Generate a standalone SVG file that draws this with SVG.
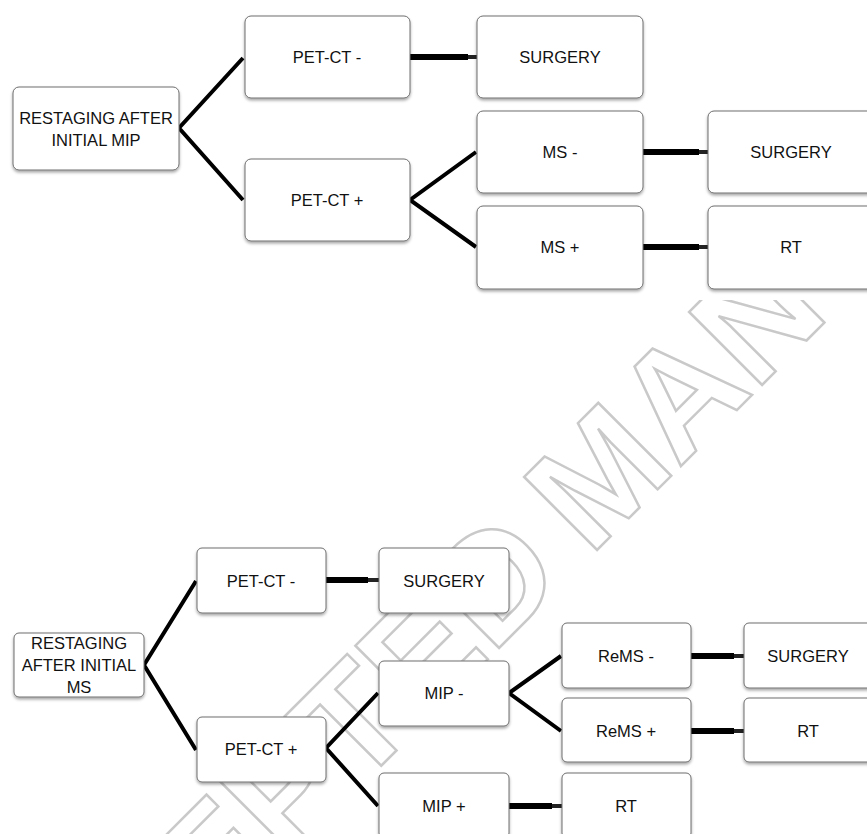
<svg xmlns="http://www.w3.org/2000/svg" width="867" height="834" viewBox="0 0 867 834">
<style>
.box{fill:#fff;stroke:#6e6e6e;stroke-width:1;filter:url(#sh)}
.t{font-family:"Liberation Sans",Arial,sans-serif;font-size:16.5px;fill:#111;text-anchor:middle}
.c{stroke:#000;stroke-width:4;fill:none;stroke-linecap:butt}
.h{stroke:#000;stroke-width:6;fill:none}
.hs{stroke:#222;stroke-width:4;fill:none}
.wm{font-family:"Liberation Sans",Arial,sans-serif;font-weight:bold;font-size:150px;fill:none;stroke:#c9c9c9;stroke-width:2.5}
</style>
<defs>
<filter id="sh" x="-10%" y="-10%" width="120%" height="130%">
<feDropShadow dx="0" dy="2" stdDeviation="1.5" flood-color="#000" flood-opacity="0.35"/>
</filter>
<clipPath id="wc"><rect x="0" y="300" width="867" height="534"/></clipPath>
</defs>
<rect width="867" height="834" fill="#fff"/>
<g id="watermark" clip-path="url(#wc)">
<g transform="translate(597,550) rotate(-45)">
<text class="wm" x="-40" y="0" text-anchor="end">ACCEPTED</text>
<text class="wm" x="-10" y="0">MANUSCRIPT</text>
</g>
</g>
<g id="connectors">
<path class="c" d="M243,58 L179,128 L243,200"/>
<path class="h" d="M410,57 H468"/><path class="hs" d="M468,57 H477"/>
<path class="c" d="M476,152 L410,200 L476,247"/>
<path class="h" d="M643,152 H699"/><path class="hs" d="M699,152 H708"/>
<path class="h" d="M643,247 H699"/><path class="hs" d="M699,247 H708"/>
<path class="c" d="M196,581 L144,665 L196,750"/>
<path class="h" d="M326,580 H368"/><path class="hs" d="M368,580 H379"/>
<path class="c" d="M378,693 L326,748 L378,806"/>
<path class="c" d="M561,656 L509,693 L561,731"/>
<path class="h" d="M691,656 H734"/><path class="hs" d="M734,656 H744"/>
<path class="h" d="M691,731 H734"/><path class="hs" d="M734,731 H744"/>
<path class="h" d="M509,806 H552"/><path class="hs" d="M552,806 H562"/>
</g>
<g id="n_root1"><rect class="box" x="13" y="87" width="166" height="83" rx="6"/><text class="t" x="96" y="124">RESTAGING AFTER</text><text class="t" x="96" y="146">INITIAL MIP</text></g>
<g id="n_petneg1"><rect class="box" x="245" y="16" width="165" height="82" rx="6"/><text class="t" x="327" y="63">PET-CT -</text></g>
<g id="n_petpos1"><rect class="box" x="245" y="159" width="165" height="82" rx="6"/><text class="t" x="327" y="206">PET-CT +</text></g>
<g id="n_surg1"><rect class="box" x="477" y="16" width="166" height="82" rx="6"/><text class="t" x="560" y="63">SURGERY</text></g>
<g id="n_msneg"><rect class="box" x="477" y="111" width="166" height="82" rx="6"/><text class="t" x="560" y="158">MS -</text></g>
<g id="n_mspos"><rect class="box" x="477" y="206" width="166" height="83" rx="6"/><text class="t" x="560" y="253">MS +</text></g>
<g id="n_surg2"><rect class="box" x="708" y="111" width="166" height="82" rx="6"/><text class="t" x="791" y="158">SURGERY</text></g>
<g id="n_rt1"><rect class="box" x="708" y="206" width="166" height="83" rx="6"/><text class="t" x="791" y="253">RT</text></g>
<g id="n_root2"><rect class="box" x="14" y="633" width="130" height="64" rx="5"/><text class="t" x="79" y="649">RESTAGING</text><text class="t" x="79" y="671">AFTER INITIAL</text><text class="t" x="79" y="693">MS</text></g>
<g id="n_petneg2"><rect class="box" x="197" y="548" width="129" height="65" rx="5"/><text class="t" x="261" y="587">PET-CT -</text></g>
<g id="n_petpos2"><rect class="box" x="197" y="717" width="129" height="65" rx="5"/><text class="t" x="261" y="755">PET-CT +</text></g>
<g id="n_surg3"><rect class="box" x="379" y="548" width="130" height="65" rx="5"/><text class="t" x="444" y="587">SURGERY</text></g>
<g id="n_mipneg"><rect class="box" x="379" y="661" width="130" height="65" rx="5"/><text class="t" x="444" y="699">MIP -</text></g>
<g id="n_mippos"><rect class="box" x="379" y="773" width="130" height="65" rx="5"/><text class="t" x="444" y="812">MIP +</text></g>
<g id="n_remsneg"><rect class="box" x="562" y="623" width="129" height="65" rx="5"/><text class="t" x="626" y="662">ReMS -</text></g>
<g id="n_remspos"><rect class="box" x="562" y="698" width="129" height="64" rx="5"/><text class="t" x="626" y="737">ReMS +</text></g>
<g id="n_surg4"><rect class="box" x="744" y="623" width="130" height="65" rx="5"/><text class="t" x="808" y="662">SURGERY</text></g>
<g id="n_rt2"><rect class="box" x="744" y="698" width="130" height="64" rx="5"/><text class="t" x="808" y="737">RT</text></g>
<g id="n_rt3"><rect class="box" x="562" y="773" width="129" height="65" rx="5"/><text class="t" x="626" y="812">RT</text></g>
</svg>
